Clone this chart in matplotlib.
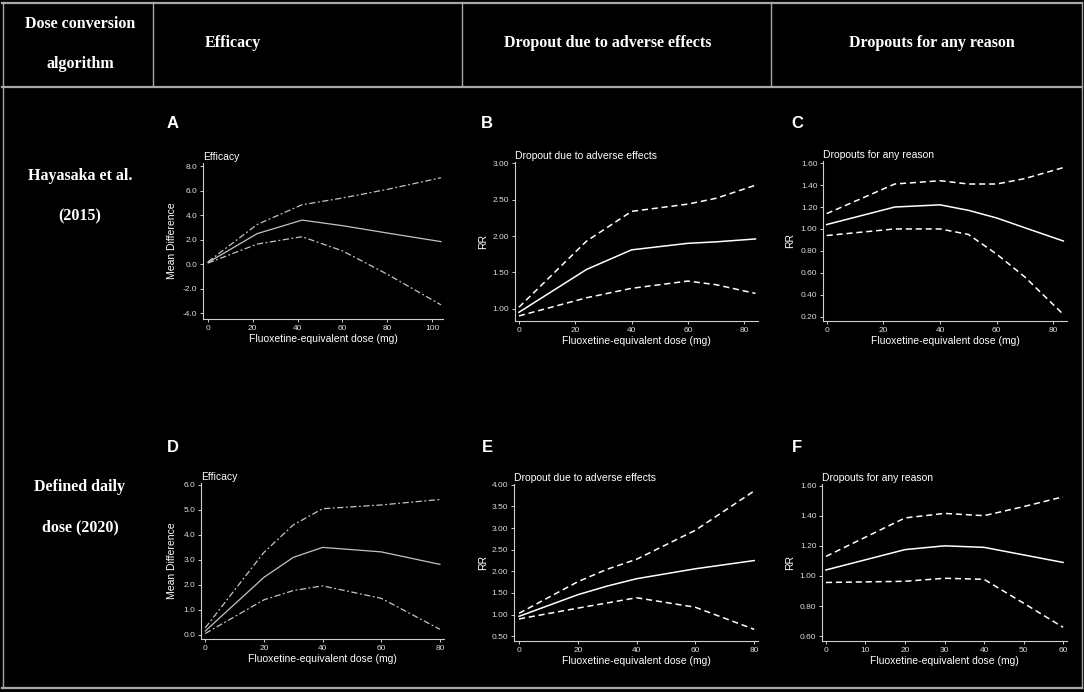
import matplotlib
matplotlib.use("Agg")
import matplotlib.pyplot as plt
from matplotlib.lines import Line2D
from matplotlib.ticker import FormatStrFormatter

# ---------------- data ----------------
col_headers = ["Efficacy", "Dropout due to adverse effects", "Dropouts for any reason"]
row_labels = ["Hayasaka et al.\n\n(2015)", "Defined daily\n\ndose (2020)"]
corner_label = "Dose conversion\n\nalgorithm"
panel_letters = ["A", "B", "C", "D", "E", "F"]
panel_titles = ["Efficacy", "Dropout due to adverse effects", "Dropouts for any reason"] * 2
y_labels = ["Mean Difference", "RR", "RR"] * 2
x_label = "Fluoxetine-equivalent dose (mg)"

# Panel A (Hayasaka, efficacy)
a_x = [0, 22, 42, 60, 80, 104]
a_upper = [0.2, 3.25, 4.85, 5.4, 6.1, 7.05]
a_mid = [0.15, 2.5, 3.6, 3.15, 2.55, 1.85]
a_lower = [0.1, 1.65, 2.25, 1.1, -0.8, -3.3]
# Panel B (Hayasaka, dropout adverse)
b_x = [0, 24, 40, 60, 70, 84]
b_upper = [1.02, 1.93, 2.34, 2.44, 2.52, 2.70]
b_mid = [0.95, 1.54, 1.81, 1.90, 1.92, 1.96]
b_lower = [0.90, 1.15, 1.28, 1.38, 1.33, 1.21]
# Panel C (Hayasaka, dropout any)
c_x = [0, 24, 40, 50, 60, 70, 83.5]
c_upper = [1.14, 1.41, 1.44, 1.41, 1.41, 1.46, 1.56]
c_mid = [1.04, 1.20, 1.22, 1.17, 1.10, 1.01, 0.89]
c_lower = [0.94, 1.00, 1.00, 0.95, 0.77, 0.56, 0.22]
# Panel D (DDD, efficacy)
d_x = [0, 20, 30, 40, 60, 80]
d_upper = [0.28, 3.3, 4.4, 5.05, 5.2, 5.42]
d_mid = [0.15, 2.3, 3.1, 3.5, 3.32, 2.82]
d_lower = [0.05, 1.4, 1.77, 1.96, 1.46, 0.22]
# Panel E (DDD, dropout adverse)
e_x = [0, 20, 30, 40, 60, 80]
e_upper = [1.03, 1.76, 2.05, 2.28, 2.95, 3.86]
e_mid = [0.96, 1.46, 1.66, 1.83, 2.06, 2.25]
e_lower = [0.90, 1.15, 1.27, 1.39, 1.17, 0.66]
# Panel F (DDD, dropout any)
f_x = [0, 20, 30, 40, 50, 60]
f_upper = [1.13, 1.385, 1.415, 1.40, 1.46, 1.525]
f_mid = [1.04, 1.175, 1.20, 1.19, 1.14, 1.09]
f_lower = [0.957, 0.965, 0.985, 0.978, 0.82, 0.66]

# tick values
a_xticks = [0, 20, 40, 60, 80, 100]; a_yticks = [-4, -2, 0, 2, 4, 6, 8]
b_xticks = [0, 20, 40, 60, 80]; b_yticks = [1.0, 1.5, 2.0, 2.5, 3.0]
c_xticks = [0, 20, 40, 60, 80]; c_yticks = [0.2, 0.4, 0.6, 0.8, 1.0, 1.2, 1.4, 1.6]
d_xticks = [0, 20, 40, 60, 80]; d_yticks = [0, 1, 2, 3, 4, 5, 6]
e_xticks = [0, 20, 40, 60, 80]; e_yticks = [0.5, 1.0, 1.5, 2.0, 2.5, 3.0, 3.5, 4.0]
f_xticks = [0, 10, 20, 30, 40, 50, 60]; f_yticks = [0.6, 0.8, 1.0, 1.2, 1.4, 1.6]

panels = [
    (a_x, a_upper, a_mid, a_lower, a_xticks, a_yticks, "%.1f"),
    (b_x, b_upper, b_mid, b_lower, b_xticks, b_yticks, "%.2f"),
    (c_x, c_upper, c_mid, c_lower, c_xticks, c_yticks, "%.2f"),
    (d_x, d_upper, d_mid, d_lower, d_xticks, d_yticks, "%.1f"),
    (e_x, e_upper, e_mid, e_lower, e_xticks, e_yticks, "%.2f"),
    (f_x, f_upper, f_mid, f_lower, f_xticks, f_yticks, "%.2f"),
]

# ---------------- layout ----------------
W, H = 1084, 692
fig = plt.figure(figsize=(W / 100, H / 100), dpi=100)
fig.patch.set_facecolor("black")

# pixel boxes (x0, top, x1, bottom) and axis limits
boxes = [
    (203, 163, 443, 319), (515, 162, 758, 321), (823, 161, 1067, 321),
    (201, 483, 444, 639), (514, 484, 758, 641), (822, 484, 1067, 641),
]
limits = [
    ((-2.2, 104.9), (-4.45, 8.25)),
    ((-1.4, 84.9), (0.83, 3.02)),
    ((-1.3, 84.8), (0.16, 1.62)),
    ((-1.46, 81.4), (-0.17, 6.08)),
    ((-1.7, 81.3), (0.39, 4.02)),
    ((-1.0, 61.0), (0.569, 1.61)),
]
letter_pos = [(173, 124), (487, 124), (797, 124), (173, 447), (487, 447), (797, 447)]
ylabel_x = [177, 488, 795, 177, 488, 795]

sans = "Liberation Sans"
serif = "Liberation Serif"
spine_col = "#cfcfcf"

for i, (px, up, mid, low, xt, yt, fmt) in enumerate(panels):
    x0, top, x1, bottom = boxes[i]
    ax = fig.add_axes([x0 / W, 1 - bottom / H, (x1 - x0) / W, (bottom - top) / H])
    ax.set_facecolor("black")
    eff = i in (0, 3)
    col = "#c4c4c4" if eff else "white"
    dash = (0, (5, 2, 1.5, 2)) if eff else (0, (4, 2.5))
    lw = 0.9 if eff else 1.1
    ax.plot(px, up, color=col, lw=lw, linestyle=dash)
    ax.plot(px, mid, color=col, lw=lw, linestyle="-")
    ax.plot(px, low, color=col, lw=lw, linestyle=dash)
    ax.set_xlim(*limits[i][0])
    ax.set_ylim(*limits[i][1])
    ax.set_xticks(xt)
    ax.set_yticks(yt)
    ax.yaxis.set_major_formatter(FormatStrFormatter(fmt))
    for s in ("top", "right"):
        ax.spines[s].set_visible(False)
    for s in ("left", "bottom"):
        ax.spines[s].set_color(spine_col)
        ax.spines[s].set_linewidth(0.8)
    ax.tick_params(colors=spine_col, labelcolor="#dcdcdc", length=2.5, width=0.7,
                   labelsize=6, pad=1.5)
    for lab in ax.get_xticklabels() + ax.get_yticklabels():
        lab.set_family(sans)
    ax.set_xlabel(x_label, color="white", fontsize=7.5, family=sans, labelpad=2)
    ax.set_title(panel_titles[i], loc="left", color="white", fontsize=7.5,
                 family=sans, pad=2)
    ax.set_ylabel(y_labels[i], color="white", fontsize=7.5, family=sans)
    ax.yaxis.set_label_coords((ylabel_x[i] - x0) / (x1 - x0), 0.5)
    lx, ly = letter_pos[i]
    fig.text(lx / W, 1 - ly / H, panel_letters[i], color="white", fontsize=12,
             fontweight="bold", family=sans, ha="center", va="center")

# ---------------- table text ----------------
fig.text(80 / W, 1 - 44 / H, corner_label, color="white", fontsize=11.5,
         fontweight="bold", family=serif, ha="center", va="center", linespacing=1.35)
for cx, txt in zip([233, 608, 932], col_headers):
    fig.text(cx / W, 1 - 43 / H, txt, color="white", fontsize=11.5,
             fontweight="bold", family=serif, ha="center", va="center")
for cy, txt in zip([196, 507], row_labels):
    fig.text(80 / W, 1 - cy / H, txt, color="white", fontsize=11.5,
             fontweight="bold", family=serif, ha="center", va="center", linespacing=1.35)

# ---------------- table borders ----------------
bcol = "#a8a8a8"
def hline(y, lw):
    fig.add_artist(Line2D([2 / W, 1082 / W], [1 - y / H, 1 - y / H], color=bcol, lw=lw))
def vline(x, y0, y1, lw):
    fig.add_artist(Line2D([x / W, x / W], [1 - y0 / H, 1 - y1 / H], color=bcol, lw=lw))

hline(2.5, 1.6)
hline(86.5, 1.6)
hline(688, 1.6)
vline(2.5, 2, 688, 1.0)
vline(1081.5, 2, 688, 1.0)
for vx in (153, 462, 771):
    vline(vx, 2, 86, 1.0)

fig.savefig("out.png", dpi=100, facecolor="black")
